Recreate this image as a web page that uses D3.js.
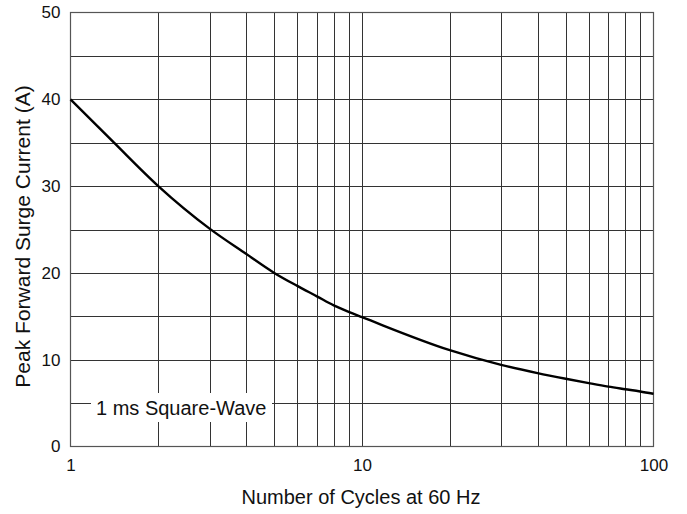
<!DOCTYPE html>
<html><head><meta charset="utf-8">
<script src="https://cdn.jsdelivr.net/npm/d3@7"></script>
<style>body{margin:0;background:#fff}svg{display:block}text{font-family:"Liberation Sans",Arial,sans-serif;fill:#111}</style>
</head><body>
<script>
const cycles = [1, 1.41, 2, 3, 4, 5, 6, 7, 8, 9, 10, 20, 30, 40, 50, 60, 70, 80, 90, 100];
const current = [40, 35, 30, 25.1, 22.2, 20, 18.5, 17.3, 16.25, 15.5, 14.9, 11.1, 9.4, 8.45, 7.8, 7.3, 6.9, 6.6, 6.34, 6.07];
const xTickLabels = [1, 10, 100];
const yTickLabels = [0, 10, 20, 30, 40, 50];
const xGrid = [2,3,4,5,6,7,8,9,10,20,30,40,50,60,70,80,90];
const yGrid = [5,10,15,20,25,30,35,40,45];
const noteText = "1 ms Square-Wave";
const xTitle = "Number of Cycles at 60 Hz";
const yTitle = "Peak Forward Surge Current (A)";

const W = 687, H = 514;
const L = 70.5, R = 653.5, T = 12.5, B = 446.5;
const svg = d3.select("body").append("svg").attr("width", W).attr("height", H);
const x = d3.scaleLog().domain([1, 100]).range([L, R]);
const y = d3.scaleLinear().domain([0, 50]).range([B, T]);

const g = svg.append("g");
g.selectAll(".vg").data(xGrid).enter().append("line")
  .attr("x1", d => Math.round(x(d)) + 0.5).attr("x2", d => Math.round(x(d)) + 0.5)
  .attr("y1", T).attr("y2", B).attr("stroke", "#333").attr("stroke-width", 1);
g.selectAll(".hg").data(yGrid).enter().append("line")
  .attr("y1", d => Math.round(y(d)) + 0.5).attr("y2", d => Math.round(y(d)) + 0.5)
  .attr("x1", L).attr("x2", R).attr("stroke", "#333").attr("stroke-width", 1);

// note box occluding grid
const nb = svg.append("g");
nb.append("rect").attr("x", 91).attr("y", 393).attr("width", 181).attr("height", 29).attr("fill", "#fff");
nb.append("text").attr("x", 96).attr("y", 415).attr("font-size", 20).text(noteText);

// frame
svg.append("rect").attr("x", L).attr("y", T).attr("width", R - L).attr("height", B - T)
  .attr("fill", "none").attr("stroke", "#555").attr("stroke-width", 1.2);

// curve
const line = d3.line().x((d, i) => x(cycles[i])).y(d => y(d)).curve(d3.curveMonotoneX);
svg.append("path").datum(current).attr("d", line).attr("fill", "none")
  .attr("stroke", "#000").attr("stroke-width", 2.4);

// axes labels
const yAxis = d3.axisLeft(y).tickValues(yTickLabels).tickSize(0).tickPadding(10);
const ya = svg.append("g").attr("transform", `translate(${L},0)`).call(yAxis);
ya.select(".domain").remove();
ya.selectAll("text").attr("font-size", 17).attr("font-family", "Liberation Sans, Arial, sans-serif").attr("fill", "#111");

const xAxis = d3.axisBottom(x).tickValues(xTickLabels).tickFormat(d3.format("d")).tickSize(0).tickPadding(12);
const xa = svg.append("g").attr("transform", `translate(0,${B})`).call(xAxis);
xa.select(".domain").remove();
xa.selectAll("text").attr("font-size", 17).attr("font-family", "Liberation Sans, Arial, sans-serif").attr("fill", "#111");

svg.append("text").attr("x", 361).attr("y", 504).attr("text-anchor", "middle").attr("font-size", 20).text(xTitle);
svg.append("text").attr("transform", `translate(30,236.5) rotate(-90)`).attr("text-anchor", "middle").attr("font-size", 21).text(yTitle);
</script>
</body></html>
